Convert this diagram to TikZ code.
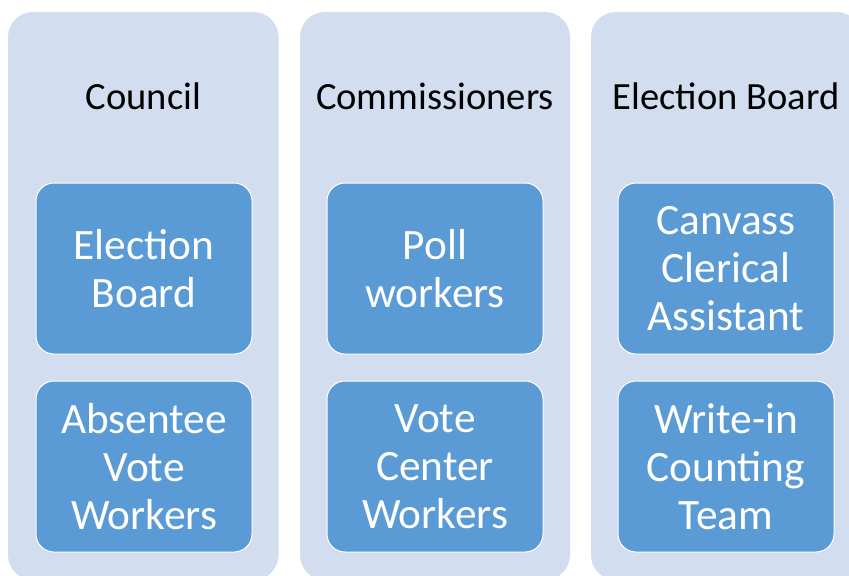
\documentclass[tikz,border=0pt]{standalone}
\usepackage{fontspec}
\setmainfont{Carlito}
\definecolor{colfill}{HTML}{D2DEEF}
\definecolor{boxfill}{HTML}{5B9BD5}
\begin{document}
\begin{tikzpicture}[x=0.75pt,y=-0.75pt,
    column/.style={fill=colfill,rounded corners=18.75pt},
    title/.style={anchor=base,font=\fontsize{28.9}{34}\selectfont},
    worker/.style={fill=boxfill,draw=white,line width=0.75pt,rounded corners=13.5pt,
      minimum width=162pt,minimum height=128.25pt,inner sep=0pt,
      text=white,align=center,font=\fontsize{32.5}{36}\selectfont}]
  \useasboundingbox (0,0) rectangle (849,575);
  \clip (0,0) rectangle (849,575);
  \fill[column] (8,12) rectangle (278.5,580);
  \fill[column] (300,12) rectangle (570,580);
  \fill[column] (591,12) rectangle (861.5,580);
  \draw
    (143.5,109) node[title] (council){Council}
    (435,109) node[title] (commissioners){Commissioners}
    (726,109) node[title] (board){Election Board};
  \draw
    (144,268.5) node[worker] (electionboard){Election\\Board}
    (144,466.5) node[worker] (absentee){Absentee\\Vote\\Workers}
    (435,268.5) node[worker] (poll){Poll\\workers}
    (435,466.5) node[worker] (votecenter){Vote\\Center\\Workers}
    (726,268.5) node[worker] (canvass){Canvass\\Clerical\\Assistant}
    (726,466.5) node[worker] (writein){Write-in\\Counting\\Team};
\end{tikzpicture}
\end{document}
